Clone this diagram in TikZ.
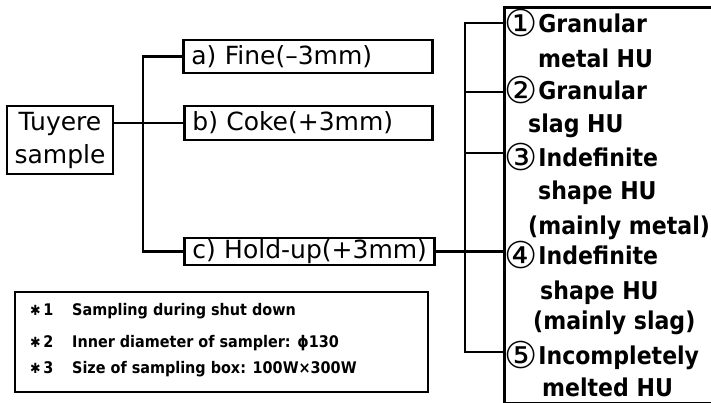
\documentclass[tikz,border=0pt]{standalone}
\usepackage{fontspec}
\setmainfont{DejaVu Sans}
\newfontfamily\hbold{DejaVu Sans Condensed Bold}
\newfontfamily\cfont{DejaVu Sans}
\newcommand{\cnum}[1]{\raisebox{-4pt}{\cfont\fontsize{37}{37}\selectfont #1}\kern1pt}
\begin{document}
\begin{tikzpicture}[x=1pt,y=1pt,
  bx/.style={draw, line width=2.8pt, inner xsep=8pt, inner ysep=0pt, anchor=west},
  ln/.style={line width=2.2pt},
  lbl/.style={font=\fontsize{25}{28}\selectfont, text width=#1, align=left},
  rt/.style={anchor=base west, inner sep=0pt, font=\hbold\fontsize{24.5}{28}\selectfont},
  lt/.style={anchor=base west, inner sep=0pt, font=\hbold\fontsize{16}{20}\selectfont}]
\useasboundingbox (0,0) rectangle (711,403);
% Tuyere sample
\node[draw, line width=2.8pt, minimum width=106pt, minimum height=68pt, inner sep=0pt,
      align=center, font=\fontsize{25}{33}\selectfont] (tuy) at (60,263) {Tuyere\\sample};
% branch boxes
\node[bx, lbl=233pt, minimum height=33pt] (a) at (182,346.5) {\mbox{a) Fine(–3mm)}};
\node[bx, lbl=232pt, minimum height=34pt] (b) at (183,280) {\mbox{b) Coke(+3mm)}};
\node[bx, lbl=234pt, minimum height=27pt] (c) at (183,151.5) {\mbox{c) Hold-up(+3mm)}};
% big right box
\node[draw, line width=2.8pt, minimum width=217pt, minimum height=396pt, inner sep=0pt, anchor=north west] (hu) at (503,397) {};
% legend box
\node[draw, line width=2.8pt, minimum width=413pt, minimum height=100pt, inner sep=0pt] (leg) at (221.5,61) {};
% trunk coordinates
\coordinate (tr) at (143,0);
\coordinate (tr2) at (465,0);
\coordinate (r1) at (hu.west |- 0,380);
\coordinate (r2) at (hu.west |- 0,311);
\coordinate (r3) at (hu.west |- 0,250);
\coordinate (r5) at (hu.west |- 0,51);
% connectors left
\draw[ln] (b.west -| tuy.east) -- (b.west);
\draw[ln] (a.west) -- (a.west -| tr) -- (c.west -| tr) -- (c.west);
% connectors right
\draw[ln] (c.east) -- (c.east -| hu.west);
\draw[ln] (r1) -- (r1 -| tr2) -- (r5 -| tr2) -- (r5);
\draw[ln] (r2) -- (r2 -| tr2);
\draw[ln] (r3) -- (r3 -| tr2);
% right box texts
\node[rt] (h1a) at (504,370) {\cnum{①}Granular};
\node[rt] (h1b) at (538,335) {metal HU};
\node[rt] (h2a) at (504,303) {\cnum{②}Granular};
\node[rt] (h2b) at (528,270) {slag HU};
\node[rt] (h3a) at (504,236) {\cnum{③}Indefinite};
\node[rt] (h3b) at (538,203) {shape HU};
\node[rt] (h3c) at (528,168) {(mainly metal)};
\node[rt] (h4a) at (504,138) {\cnum{④}Indefinite};
\node[rt] (h4b) at (540,103) {shape HU};
\node[rt] (h4c) at (533,73) {(mainly slag)};
\node[rt] (h5a) at (504,38) {\cnum{⑤}Incompletely};
\node[rt] (h5b) at (542,6) {melted HU};
% legend texts
\node[lt] (n1) at (30,87) {{\fontsize{14}{16}\selectfont ✱}\,1};
\node[lt] (n2) at (30,55) {{\fontsize{14}{16}\selectfont ✱}\,2};
\node[lt] (n3) at (30,29) {{\fontsize{14}{16}\selectfont ✱}\,3};
\node[lt] (l1) at (72,87) {Sampling during shut down};
\node[lt] (l2) at (72,55) {Inner diameter of sampler: ϕ130};
\node[lt] (l3) at (72,29) {Size of sampling box: 100W×300W};
\end{tikzpicture}
\end{document}
